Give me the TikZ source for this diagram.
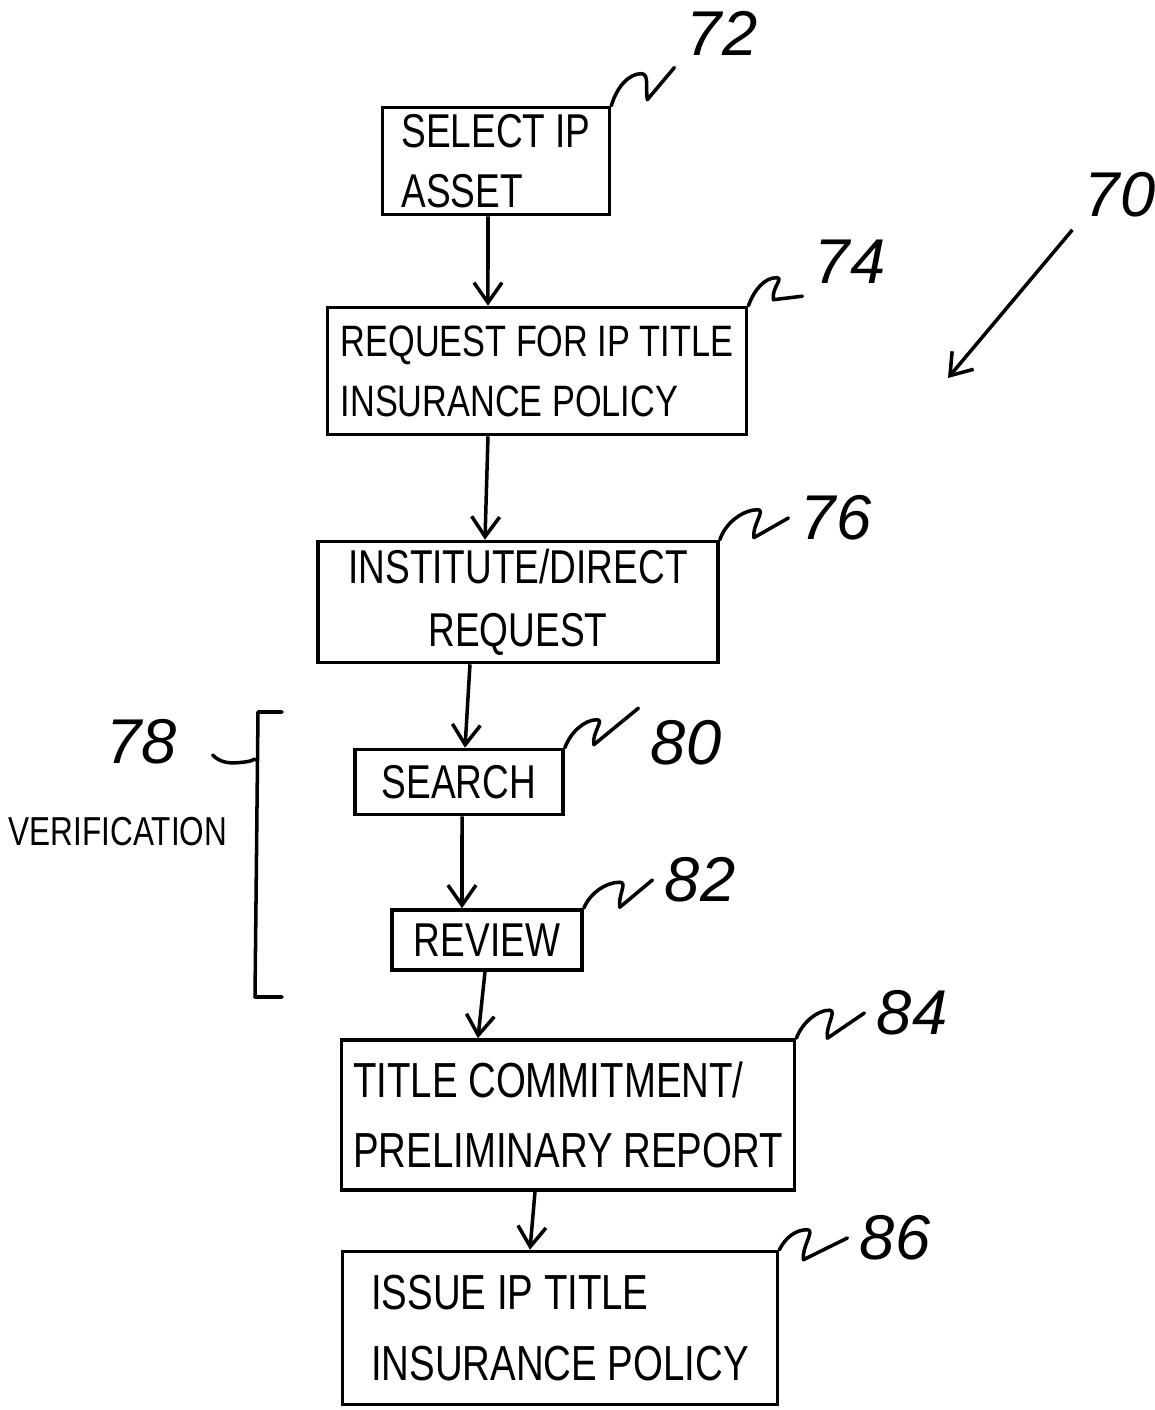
\documentclass[tikz,border=0pt]{standalone}
\usepackage{fontspec}
\newfontfamily\handfont[FakeStretch=0.78]{Liberation Sans}
\newfontfamily\numfont{Liberation Sans}
\usetikzlibrary{arrows.meta}

\begin{document}
\begin{tikzpicture}[x=0.01cm,y=-0.01cm,
    stepbox/.style={draw,line width=1pt,inner sep=0pt,align=left,
      font=\handfont\fontsize{13.5}{18}\selectfont},
    refnum/.style={font=\numfont\itshape\fontsize{18}{18}\selectfont},
    flow/.style={line width=1pt,-{Straight Barb[length=2mm,width=2.8mm]}},
    lead/.style={line width=1pt,line cap=round,line join=round}]
  \useasboundingbox (0,0) rectangle (1154,1410);

  % process boxes
  \node[stepbox,minimum width=2.27cm,minimum height=1.07cm,
    font=\handfont\fontsize{13.5}{17}\selectfont] (b72) at (496,161) {SELECT IP\\ASSET};
  \node[stepbox,minimum width=4.19cm,minimum height=1.27cm,
    font=\handfont\fontsize{12.5}{17}\selectfont] (b74) at (537,371) {REQUEST FOR IP TITLE\\INSURANCE POLICY};
  \node[stepbox,align=center,minimum width=4.00cm,minimum height=1.21cm] (b76) at (518,602) {INSTITUTE/DIRECT\\REQUEST};
  \node[stepbox,minimum width=2.08cm,minimum height=0.65cm] (b80) at (459,782) {SEARCH};
  \node[stepbox,minimum width=1.90cm,minimum height=0.60cm] (b82) at (487,940) {REVIEW};
  \node[stepbox,minimum width=4.53cm,minimum height=1.50cm,
    font=\handfont\fontsize{14}{20}\selectfont] (b84) at (568,1115) {TITLE COMMITMENT/\\PRELIMINARY REPORT};
  \node[stepbox,minimum width=4.35cm,minimum height=1.53cm,
    font=\handfont\fontsize{14}{20}\selectfont] (b86) at (560,1328) {ISSUE IP TITLE\\INSURANCE POLICY};

  % flow
  \draw[flow] ([xshift=-0.08cm]b72.south) -- ([xshift=-0.49cm]b74.north);
  \draw[flow] ([xshift=-0.49cm]b74.south) -- ([xshift=-0.33cm]b76.north);
  \draw[flow] ([xshift=-0.48cm]b76.south) -- ([xshift=0.06cm]b80.north);
  \draw[flow] ([xshift=0.03cm]b80.south) -- ([xshift=-0.25cm]b82.north);
  \draw[flow] ([xshift=-0.02cm]b82.south) -- ([xshift=-0.90cm]b84.north);
  \draw[flow] ([xshift=-0.33cm]b84.south) -- ([xshift=-0.30cm]b86.north);

  % reference numerals
  \node[refnum] (n72) at (722,33) {72};
  \node[refnum] (n74) at (850,262) {74};
  \node[refnum] (n76) at (836,518) {76};
  \node[refnum] (n80) at (686,743) {80};
  \node[refnum] (n82) at (700,880) {82};
  \node[refnum] (n84) at (912,1013) {84};
  \node[refnum] (n86) at (895,1238) {86};
  \node[refnum] (n70) at (1120,195) {70};
  \node[refnum] (n78) at (142,742) {78};

  \draw[lead] (b72.north east) .. controls +(6,-20) and +(-12,0) .. ++(30,-32)
    .. controls +(8,0) and +(-2,-12) .. ++(6,26) -- (n72.south west);
  \draw[lead] (b74.north east) .. controls +(6,-16) and +(-12,0) .. ++(28,-28)
    .. controls +(8,0) and +(-2,-12) .. ++(-3,22) -- (n74.south west);
  \draw[lead] (b76.north east) .. controls +(6,-18) and +(-14,0) .. ++(38,-30)
    .. controls +(8,0) and +(-2,-12) .. ++(-4,28) -- (n76.west);
  \draw[lead] (b80.north east) .. controls +(6,-16) and +(-12,0) .. ++(32,-28)
    .. controls +(8,0) and +(-2,-12) .. ++(-3,25) -- (n80.north west);
  \draw[lead] (b82.north east) .. controls +(6,-15) and +(-14,0) .. ++(36,-26)
    .. controls +(8,0) and +(-2,-12) .. ++(0,25) -- (n82.west);
  \draw[lead] (b84.north east) .. controls +(6,-16) and +(-12,0) .. ++(33,-28)
    .. controls +(8,0) and +(-2,-12) .. ++(-2,28) -- (n84.west);
  \draw[lead] (b86.north east) .. controls +(6,-12) and +(-12,0) .. ++(28,-20)
    .. controls +(8,0) and +(-2,-12) .. ++(-4,30) -- (n86.west);

  % verification bracket
  \node[font=\handfont\fontsize{11.5}{14}\selectfont] (ver) at (118,832) {VERIFICATION};
  \draw[lead] (282,712) -- (258,712) -- coordinate[pos=0.17] (brk) (255,997) -- (282,997);
  \draw[lead] ([xshift=0.23cm,yshift=-0.13cm]n78.east) .. controls +(8,8) and +(-15,2) .. ++(32,7)
    .. controls +(15,-2) and +(-8,-3) .. (brk);

  % overall
  \coordinate (p70) at (948,378);
  \draw[flow] (n70.south west) -- (p70);
\end{tikzpicture}
\end{document}
